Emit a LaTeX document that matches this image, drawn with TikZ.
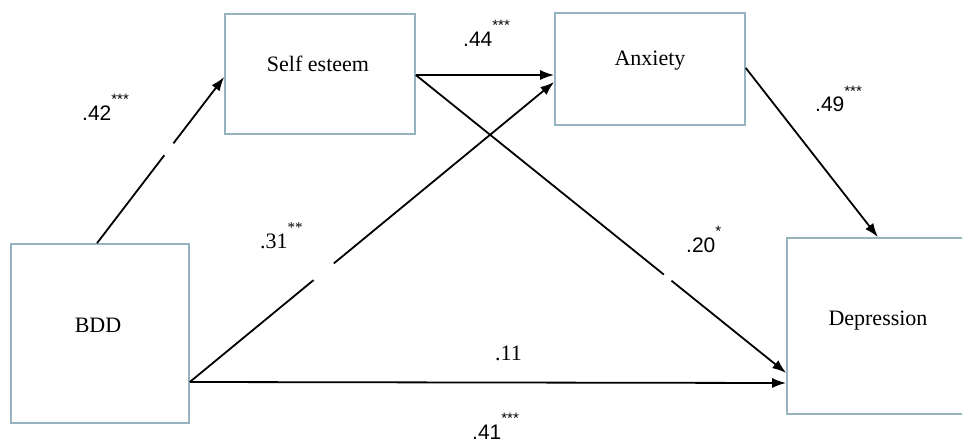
\documentclass[tikz,border=0pt]{standalone}
\usepackage{fontspec}
\setmainfont{Liberation Serif}
\newfontfamily\sansf{Liberation Sans}
\usetikzlibrary{arrows.meta,calc}
\definecolor{boxline}{RGB}{150,180,192}
\newcommand\sigstars[1]{\raisebox{16pt}{\fontsize{15}{15}\selectfont #1}}
\begin{document}
\begin{tikzpicture}[x=1pt,y=-1pt,
  varbox/.style={draw=boxline,line width=1.6pt,fill=white,inner sep=0pt},
  boxtext/.style={anchor=base,inner sep=0pt,font=\fontsize{22}{22}\selectfont},
  coefs/.style={anchor=base west,inner sep=0pt,font=\sansf\fontsize{21}{21}\selectfont},
  coefr/.style={anchor=base west,inner sep=0pt,font=\fontsize{22}{22}\selectfont},
  path/.style={line width=1.8pt,-{Latex[length=14pt,width=10pt]}},
  gap/.style={white,line width=5pt}]
\useasboundingbox[fill=white] (0,0) rectangle (962,444);
% boxes
\node[varbox,minimum width=190pt,minimum height=120pt] (se) at (320,74) {};
\node[varbox,minimum width=190pt,minimum height=112pt] (ax) at (650,69) {};
\node[varbox,minimum width=178pt,minimum height=179pt] (bdd) at (100,333.5) {};
\node[varbox,minimum width=178pt,minimum height=176pt] (dep) at (876,326) {};
% box texts
\node[boxtext] (tse) at (318,72) {Self esteem};
\node[boxtext] (tax) at (650,66) {Anxiety};
\node[boxtext] (tbdd) at (98,332) {BDD};
\node[boxtext] (tdep) at (878,325) {Depression};
% connectors
\coordinate (bddout) at ([yshift=-48.5pt]bdd.east);
\coordinate (seout) at ([yshift=-1pt]se.east);
\draw[path] ([xshift=-3pt]bdd.north) -- ([yshift=-3pt]se.west);
\draw[path] (seout) -- ([yshift=-6pt]ax.west);
\draw[path] (bddout) -- ([yshift=-13pt]ax.west);
\draw[path] (seout) -- ([yshift=-47pt]dep.west);
\draw[path] ([yshift=1pt]ax.east) -- ([xshift=2pt]dep.north);
\draw[path] (bddout) -- ([yshift=-57pt]dep.west);
% small breaks in lines
\draw[gap] ($([xshift=-3pt]bdd.north)!0.53!([yshift=-3pt]se.west)$) -- ($([xshift=-3pt]bdd.north)!0.60!([yshift=-3pt]se.west)$);
\draw[gap] ($(bddout)!0.34!([yshift=-13pt]ax.west)$) -- ($(bddout)!0.395!([yshift=-13pt]ax.west)$);
\draw[gap] ($(seout)!0.67!([yshift=-47pt]dep.west)$) -- ($(seout)!0.69!([yshift=-47pt]dep.west)$);
% coefficients
\node[coefs] (c42) at (82,121) {.42\sigstars{***}};
\node[coefs] (c44) at (463,47) {.44\sigstars{***}};
\node[coefs] (c49) at (815,112) {.49\sigstars{***}};
\node[coefr] (c31) at (260,248) {.31\sigstars{**}};
\node[coefs] (c20) at (686,252) {.20\sigstars{*}};
\node[coefr] (c11) at (495,360) {.11};
\node[coefs] (c41) at (472,439) {.41\sigstars{***}};
\end{tikzpicture}
\end{document}
